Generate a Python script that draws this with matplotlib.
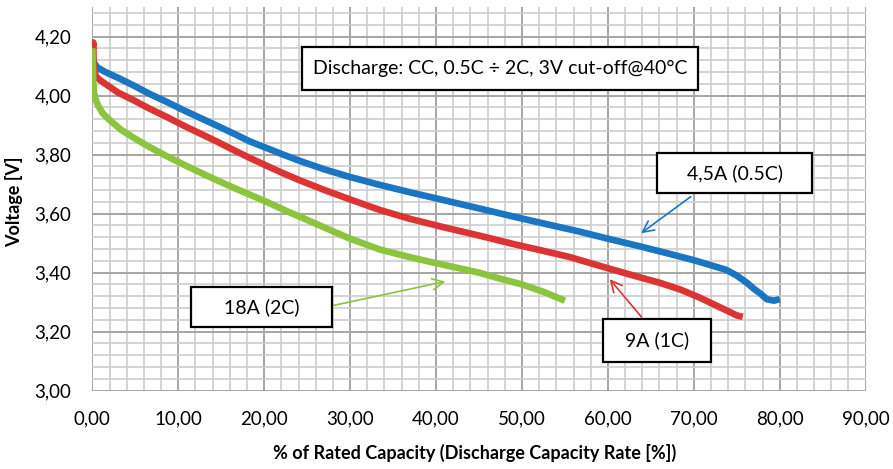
import numpy as np
import matplotlib
matplotlib.use("Agg")
import matplotlib.pyplot as plt
from matplotlib.patches import Rectangle
from matplotlib.ticker import MultipleLocator, FuncFormatter

plt.rcParams['font.family'] = ['Lato', 'DejaVu Sans']

# discharge curves: % of rated capacity vs voltage
cap_05c = [0.0, 0.2, 0.6, 1.5, 3.0, 4.75, 6.7, 8.7, 10.5, 12.5, 14.5, 16.4, 18.3, 20.3,
           22.2, 24.2, 27.0, 30.0, 33.5, 37.0, 41.0, 45.1, 49.0, 52.0, 56.7, 60.0, 63.6,
           67.0, 69.9, 72.0, 73.8, 75.0, 76.2, 77.0, 77.7, 78.5, 79.3, 80.0]
volt_05c = [4.15, 4.11, 4.095, 4.08, 4.06, 4.035, 4.005, 3.978, 3.952, 3.925, 3.898, 3.872,
            3.845, 3.822, 3.80, 3.778, 3.75, 3.724, 3.697, 3.672, 3.645, 3.617, 3.59, 3.57,
            3.539, 3.515, 3.49, 3.465, 3.443, 3.425, 3.409, 3.39, 3.365, 3.345, 3.33, 3.31,
            3.305, 3.31]

cap_1c = [0.0, 0.1, 0.15, 0.4, 1.0, 2.0, 3.0, 4.75, 6.7, 8.7, 10.5, 12.5, 14.5, 16.4, 18.3,
          20.3, 22.2, 24.2, 27.0, 30.0, 33.5, 37.0, 41.0, 45.1, 49.0, 52.0, 55.4, 58.0,
          60.0, 63.0, 66.1, 68.5, 70.7, 72.5, 73.8, 75.0, 75.7]
volt_1c = [4.13, 4.18, 4.10, 4.065, 4.05, 4.03, 4.01, 3.985, 3.955, 3.927, 3.9, 3.872, 3.844,
           3.816, 3.789, 3.762, 3.737, 3.712, 3.68, 3.648, 3.612, 3.582, 3.553, 3.525, 3.497,
           3.477, 3.454, 3.432, 3.415, 3.39, 3.365, 3.342, 3.315, 3.29, 3.272, 3.255, 3.25]

cap_2c = [0.0, 0.05, 0.1, 0.2, 0.4, 0.7, 1.2, 2.1, 3.3, 4.75, 6.5, 8.5, 10.5, 12.5, 14.5,
          16.5, 18.5, 20.5, 22.5, 24.5, 27.0, 30.0, 33.5, 37.0, 40.0, 43.0, 45.1, 47.4,
          50.0, 52.5, 55.0]
volt_2c = [4.16, 4.13, 4.05, 4.01, 3.985, 3.965, 3.94, 3.915, 3.885, 3.858, 3.828, 3.797,
           3.768, 3.74, 3.713, 3.687, 3.662, 3.637, 3.61, 3.585, 3.553, 3.515, 3.478, 3.452,
           3.432, 3.413, 3.399, 3.38, 3.36, 3.335, 3.305]

series = [
    (cap_05c, volt_05c, '#1a75c2'),
    (cap_1c, volt_1c, '#dc3434'),
    (cap_2c, volt_2c, '#8cc43e'),
]

# text boxes in axes fraction: (left, bottom, width, height)
boxes = [
    ((0.2711, 0.7837, 0.5120, 0.1120), 'Discharge: CC, 0.5C \u00f7 2C, 3V cut-off@40\u00b0C'),
    ((0.7302, 0.5153, 0.2004, 0.1042), '4,5A (0.5C)'),
    ((0.6603, 0.0748, 0.1396, 0.1121), '9A (1C)'),
    ((0.1276, 0.1660, 0.1824, 0.1043), '18A (2C)'),
]

# arrows from label box to curve (tail, head) in data units
arrows = [
    ((69.9, 3.663), (63.6, 3.528), '#1a75c2'),
    ((64.1, 3.243), (60.0, 3.385), '#dc3434'),
    ((27.3, 3.284), (41.4, 3.372), '#8cc43e'),
]

fig = plt.figure(figsize=(8.93, 4.69), dpi=100)
ax = fig.add_axes([0.1034, 0.167, 0.866, 0.818])

ax.set_xlim(0, 90)
ax.set_ylim(3.0, 4.3)
ax.xaxis.set_major_locator(MultipleLocator(10))
ax.xaxis.set_minor_locator(MultipleLocator(2))
ax.yaxis.set_major_locator(MultipleLocator(0.2))
ax.yaxis.set_minor_locator(MultipleLocator(0.04))
ax.yaxis.set_major_formatter(FuncFormatter(lambda v, p: f'{v:.2f}'.replace('.', ',') if v < 4.25 else ''))
ax.xaxis.set_major_formatter(FuncFormatter(lambda v, p: f'{v:.2f}'.replace('.', ',')))

ax.grid(which='minor', color='#cdcdcd', lw=1.2)
ax.grid(which='major', color='#a6a6a6', lw=1.4)
ax.set_axisbelow(True)
for s in ax.spines.values():
    s.set_visible(False)
ax.tick_params(which='both', length=0)
ax.tick_params(axis='x', pad=14, labelsize=13.5)
ax.tick_params(axis='y', pad=15, labelsize=13.5)

for x, y, c in series:
    ax.plot(x, y, color=c, lw=4.8, solid_capstyle='butt', solid_joinstyle='round')

for (tail, head, c) in arrows:
    ax.annotate('', xy=head, xytext=tail,
                arrowprops=dict(arrowstyle='->', color=c, lw=1.2, mutation_scale=20))

for (l, b, w, h), txt in boxes:
    ax.add_patch(Rectangle((l, b), w, h, transform=ax.transAxes, facecolor='white',
                           edgecolor='black', lw=1.6, zorder=5))
    ax.text(l + w / 2, b + h / 2, txt, transform=ax.transAxes, ha='center', va='center',
            fontsize=14, zorder=6)

fig.text(14 / 893, 1 - 202 / 469, 'Voltage [V]', rotation=90, ha='center', va='center',
         fontsize=13, fontweight='bold')
fig.text(475 / 893, 1 - 453 / 469, '% of Rated Capacity (Discharge Capacity Rate [%])',
         ha='center', va='center', fontsize=13, fontweight='bold')

fig.savefig('out.png', dpi=100)
